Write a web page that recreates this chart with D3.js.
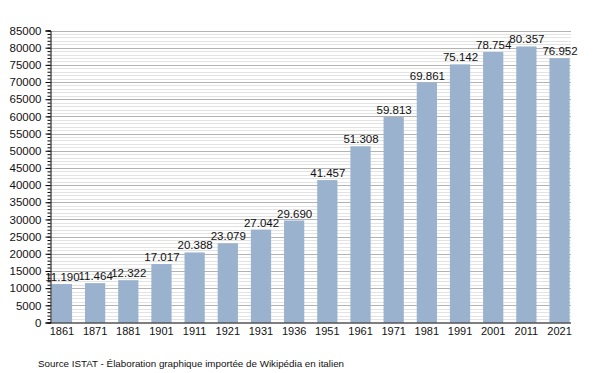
<!DOCTYPE html>
<html><head><meta charset="utf-8">
<script src="https://cdn.jsdelivr.net/npm/d3@7"></script>
<style>body{margin:0;background:#fff}svg{display:block}text{font-family:"Liberation Sans",Arial,sans-serif;fill:#111}</style>
</head><body><svg id="c" width="600" height="373"></svg>
<script>
const years = ["1861","1871","1881","1901","1911","1921","1931","1936","1951","1961","1971","1981","1991","2001","2011","2021"];
const population = [11190,11464,12322,17017,20388,23079,27042,29690,41457,51308,59813,69861,75142,78754,80357,76952];
const valueLabels = ["11.190","11.464","12.322","17.017","20.388","23.079","27.042","29.690","41.457","51.308","59.813","69.861","75.142","78.754","80.357","76.952"];
const majorTicks = d3.range(0, 85001, 5000);
const minorTicks = d3.range(0, 85001, 1000);
const sourceText = "Source ISTAT - Élaboration graphique importée de Wikipédia en italien";

(function () {
const svg = d3.select("#c");
const mLeft = 50.5, mRight = 571, mTop = 30.5, mBottom = 322.5;
const x = d3.scaleBand().domain(years).range([mLeft, mRight]).paddingInner(0.39).paddingOuter(0.04);
const y = d3.scaleLinear().domain([0, 85000]).range([mBottom, mTop]);

svg.append("g").selectAll("line").data(minorTicks.filter(v => v % 5000 !== 0)).join("line")
  .attr("x1", mLeft).attr("x2", mRight).attr("y1", d => Math.round(y(d)) + 0.5).attr("y2", d => Math.round(y(d)) + 0.5)
  .attr("stroke", "#e3e3e3").attr("stroke-width", 1);
svg.append("g").selectAll("line").data(majorTicks.filter(v => v > 0)).join("line")
  .attr("x1", mLeft).attr("x2", mRight).attr("y1", d => Math.round(y(d)) + 0.5).attr("y2", d => Math.round(y(d)) + 0.5)
  .attr("stroke", "#b3b3b3").attr("stroke-width", 1);

svg.append("g").selectAll("rect").data(population).join("rect")
  .attr("x", (d, i) => x(years[i])).attr("width", x.bandwidth())
  .attr("y", d => y(d)).attr("height", d => mBottom - y(d))
  .attr("fill", "#9ab2cd");

svg.append("g").selectAll("text").data(population).join("text")
  .attr("x", (d, i) => x(years[i]) + x.bandwidth() / 2 + 0.5).attr("y", d => y(d) - 3)
  .attr("text-anchor", "middle").attr("font-size", "11.5px")
  .text((d, i) => valueLabels[i]);

const yAxis = d3.axisLeft(y).tickValues(majorTicks).tickSize(5).tickFormat(d3.format("d"));
const gy = svg.append("g").attr("transform", `translate(${mLeft},0)`).call(yAxis);
gy.select(".domain").attr("stroke", "#000");
gy.selectAll(".tick line").attr("stroke", "#000");
gy.selectAll(".tick text").attr("font-size", "11.5px").attr("font-family", '"Liberation Sans",Arial,sans-serif').attr("fill", "#111").attr("x", -9);
const yMinor = d3.axisLeft(y).tickValues(minorTicks).tickSize(3).tickFormat("");
const gym = svg.append("g").attr("transform", `translate(${mLeft},0)`).call(yMinor);
gym.select(".domain").remove();
gym.selectAll(".tick line").attr("stroke", "#000");

const xAxis = d3.axisBottom(x).tickSize(0).tickPadding(5);
const gx = svg.append("g").attr("transform", `translate(0,${mBottom})`).call(xAxis);
gx.select(".domain").attr("stroke", "#000").attr("stroke-width", 1.2).attr("d", `M${mLeft},0.5H${mRight}`);
gx.selectAll(".tick text").attr("font-size", "11px").attr("font-family", '"Liberation Sans",Arial,sans-serif').attr("fill", "#111");

svg.append("text").attr("x", 38).attr("y", 367).attr("font-size", "9.8px").text(sourceText);
})();
</script></body></html>
